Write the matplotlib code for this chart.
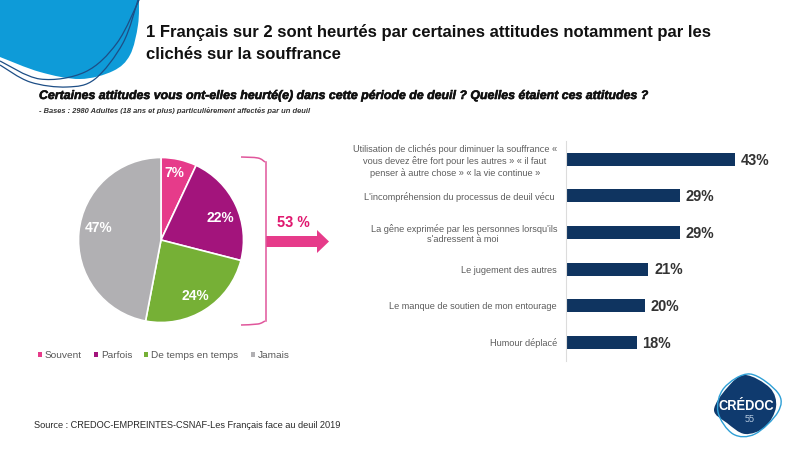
import matplotlib
matplotlib.use('Agg')
import matplotlib.pyplot as plt
import matplotlib.patheffects as pe
from matplotlib.patches import PathPatch, Polygon
from matplotlib.path import Path

plt.rcParams['font.family'] = ['Liberation Sans', 'DejaVu Sans']
plt.rcParams['text.hinting'] = 'no_autohint'

W, H = 800, 450

# Camembert
pie_labels = ['Souvent', 'Parfois', 'De temps en temps', 'Jamais']
pie_values = [7, 22, 24, 47]
pie_colors = ['#E63B8A', '#A3147C', '#76B036', '#B1B0B3']

# Barres
bar_labels = [
    'Utilisation de clichés pour diminuer la souffrance «\nvous devez être fort pour les autres » « il faut\npenser à autre chose » « la vie continue »',
    "L'incompréhension du processus de deuil vécu ",
    "La gêne exprimée par les personnes lorsqu'ils\ns'adressent à moi ",
    'Le jugement des autres',
    'Le manque de soutien de mon entourage',
    'Humour déplacé',
]
bar_values = [43, 29, 29, 21, 20, 18]

title = '1 Français sur 2 sont heurtés par certaines attitudes notamment par les\nclichés sur la souffrance'
question = 'Certaines attitudes vous ont-elles heurté(e) dans cette période de deuil ? Quelles étaient ces attitudes ?'
base = '- Bases : 2980 Adultes (18 ans et plus) particulièrement affectés par un deuil'
source = 'Source : CREDOC-EMPREINTES-CSNAF-Les Français face au deuil 2019'


def px_axes(fig, x0, y0, x1, y1):
    # axes place en pixels, origine en haut a gauche
    return fig.add_axes([x0 / W, 1 - y1 / H, (x1 - x0) / W, (y1 - y0) / H])


def smooth(points, close=False):
    # courbe lisse passant par les points (Catmull-Rom vers Bezier)
    pts = list(points)
    if close:
        pts = pts + [pts[0]]
    verts = [pts[0]]
    codes = [Path.MOVETO]
    n = len(pts)
    for i in range(n - 1):
        if close:
            p0 = pts[i - 1] if i > 0 else pts[n - 2]
            p3 = pts[i + 2] if i + 2 < n else pts[1]
        else:
            p0 = pts[max(i - 1, 0)]
            p3 = pts[min(i + 2, n - 1)]
        p1, p2 = pts[i], pts[i + 1]
        c1 = (p1[0] + (p2[0] - p0[0]) / 6, p1[1] + (p2[1] - p0[1]) / 6)
        c2 = (p2[0] - (p3[0] - p1[0]) / 6, p2[1] - (p3[1] - p1[1]) / 6)
        verts += [c1, c2, p2]
        codes += [Path.CURVE4] * 3
    return Path(verts, codes)


fig = plt.figure(figsize=(W / 100, H / 100), dpi=100, facecolor='white')

# Fond : decor, titres, accolade, fleche
bg = fig.add_axes([0, 0, 1, 1])
bg.set_xlim(0, W)
bg.set_ylim(H, 0)
bg.axis('off')

blob = smooth([(139, -3), (138, 25), (130, 55), (113, 71), (80, 79), (40, 72), (0, 57)])
bv = list(blob.vertices) + [(-3, 57), (-3, -3), (139, -3)]
bc = list(blob.codes) + [Path.LINETO] * 3
bg.add_patch(PathPatch(Path(bv, bc), fc='#0E9BD8', ec='none'))
bg.add_patch(PathPatch(smooth([(0, 61), (40, 79), (85, 72), (117, 43), (140, -2)]), fc='none', ec='#1D4E86', lw=0.9))
bg.add_patch(PathPatch(smooth([(0, 65), (30, 82), (67, 87), (95, 79), (123, 43), (138, 0)]), fc='none', ec='#1D4E86', lw=0.9))

bg.text(146, 43.5, title, fontsize=12, fontweight='bold', color='#111111', va='center', linespacing=1.5)
bg.text(39, 95, question, fontsize=8.9, fontweight='bold', fontstyle='italic', color='#111111', va='center',
        path_effects=[pe.withStroke(linewidth=0.4, foreground='#111111')])
bg.text(39, 111, base, fontsize=5.4, fontweight='bold', fontstyle='italic', color='#333333', va='center')
bg.text(34, 426, source, fontsize=6.6, color='#222222', va='center')

bg.add_patch(PathPatch(smooth([(241, 157), (258, 158), (265, 162)]), fc='none', ec='#E0569B', lw=1.1))
bg.plot([266, 266], [162, 321], color='#E0569B', lw=1.1)
bg.add_patch(PathPatch(smooth([(265, 321), (258, 324), (241, 325)]), fc='none', ec='#E0569B', lw=1.1))
bg.add_patch(Polygon([(266, 236), (317, 236), (317, 230), (329, 241.5), (317, 253), (317, 247), (266, 247)],
                     fc='#E63B8A', ec='none'))
bg.text(293.5, 223, '53 %', fontsize=10.5, fontweight='bold', color='#E0186F', ha='center', va='center')

# Logo
bg.add_patch(PathPatch(smooth([(745, 375), (770, 388), (776, 407), (765, 427), (745, 434), (727, 423), (714, 410), (727, 388)], close=True),
                       fc='#0F3A6E', ec='none'))
bg.add_patch(PathPatch(smooth([(750, 374), (778, 393), (778, 412), (755, 434), (733, 434), (718, 412), (724, 388)], close=True),
                       fc='none', ec='#2E9FD6', lw=1))
bg.text(746, 406, 'CRÉDOC', fontsize=9.3, fontweight='bold', color='white', ha='center', va='center')
bg.text(750, 420, '55', fontsize=6.5, color='#BFD2E6', ha='center', va='center')

# Camembert
ax_pie = px_axes(fig, 70, 149, 252, 331)
wedges, _, pct = ax_pie.pie(pie_values, colors=pie_colors, startangle=90, counterclock=False,
                            radius=1, autopct='%.0f%%', pctdistance=0.78,
                            wedgeprops={'edgecolor': 'white', 'linewidth': 1.2},
                            textprops={'color': 'white', 'fontweight': 'bold', 'fontsize': 10})
ax_pie.set_xlim(-91 / 82.5, 91 / 82.5)
ax_pie.set_ylim(-91 / 82.5, 91 / 82.5)
ax_pie.set_aspect('equal')
# petits decalages des etiquettes, en pixels
for t, (dx, dy) in zip(pct, [(-1, 4), (1, -6), (0, -2), (2, 5)]):
    x, y = t.get_position()
    t.set_position((x + dx / 82.5, y + dy / 82.5))

leg = fig.legend(wedges, pie_labels, ncol=4, loc='center left', bbox_to_anchor=(38 / W, 1 - 355.5 / H),
                 frameon=False, fontsize=7.2, handlelength=0.4, handleheight=0.4, handletextpad=0.3,
                 columnspacing=1.2, labelcolor='#595959', borderpad=0, borderaxespad=0)
for h in leg.legend_handles:
    h.set_edgecolor('none')

# Barres
ax_bar = px_axes(fig, 565.7, 141, 785, 360.6)
ypos = range(len(bar_values))
ax_bar.barh(ypos, bar_values, height=0.36, color='#0F3460')
ax_bar.set_xlim(0, 219.3 / 3.94)
ax_bar.set_ylim(5.5, -0.5)
ax_bar.set_xticks([])
ax_bar.set_yticks(list(ypos))
ax_bar.set_yticklabels(bar_labels, fontsize=6.6, color='#595959', ha='right', ma='center', linespacing=1.2)
ax_bar.tick_params(axis='y', length=0, pad=6.2)
for s in ['top', 'right', 'bottom']:
    ax_bar.spines[s].set_visible(False)
ax_bar.spines['left'].set_color('#DCDCDC')
for y, v in zip(ypos, bar_values):
    ax_bar.annotate(f'{v}%', (v, y), xytext=(4, -1), textcoords='offset points', va='center',
                    fontsize=10.5, fontweight='bold', color='#333333')

fig.savefig('out.png', dpi=100)
